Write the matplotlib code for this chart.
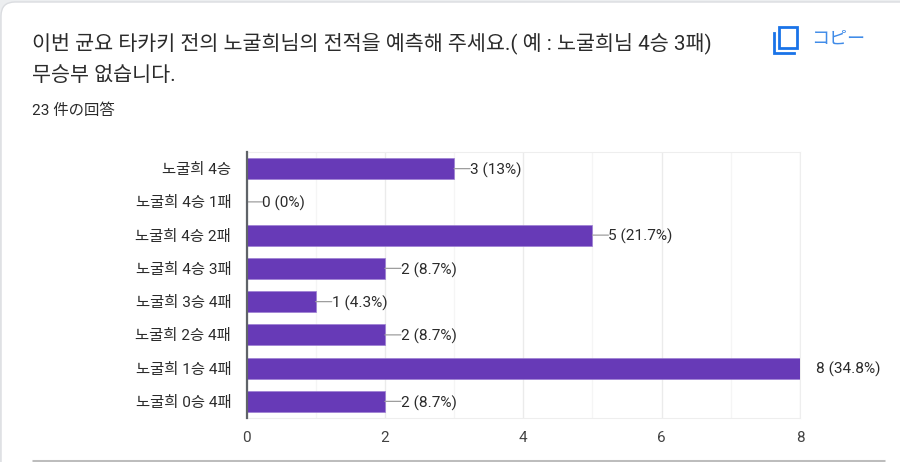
import matplotlib
matplotlib.use("Agg")
import matplotlib.pyplot as plt
from matplotlib.patches import FancyBboxPatch, Rectangle

plt.rcParams['font.family'] = ['Roboto', 'Noto Sans CJK KR', 'Noto Sans CJK JP', 'DejaVu Sans']

title_1 = "이번 균요 타카키 전의 노굴희님의 전적을 예측해 주세요.( 예 : 노굴희님 4승 3패)"
title_2 = "무승부 없습니다."
subtitle = "23 件の回答"
copy_label = "コピー"

categories = ["노굴희 4승", "노굴희 4승 1패", "노굴희 4승 2패", "노굴희 4승 3패",
              "노굴희 3승 4패", "노굴희 2승 4패", "노굴희 1승 4패", "노굴희 0승 4패"]
counts = [3, 0, 5, 2, 1, 2, 8, 2]
percents = ["13%", "0%", "21.7%", "8.7%", "4.3%", "8.7%", "34.8%", "8.7%"]
major_ticks = [0, 2, 4, 6, 8]
minor_ticks = [1, 3, 5, 7]

W, H = 900, 462
bar_color = "#673ab7"
text_color = "#2b2b2b"
blue = "#1a73e8"

fig = plt.figure(figsize=(W / 100, H / 100), dpi=100, facecolor="#eceef0")

# page furniture, in pixels
bg = fig.add_axes([0, 0, 1, 1])
bg.set_xlim(0, W)
bg.set_ylim(H, 0)
bg.axis("off")
bg.add_patch(FancyBboxPatch((1, 2), W + 30, H + 30, boxstyle="round,pad=0,rounding_size=14",
                            fc="white", ec="#dadce0", lw=1))
bg.plot([32, 885], [460.5, 460.5], color="#bdbdbd", lw=2.2, solid_capstyle="butt")

bg.text(32, 43, title_1, fontsize=14.9, color=text_color, va="center", ha="left")
bg.text(32, 75.5, title_2, fontsize=14.9, color=text_color, va="center", ha="left")
bg.text(32, 110.5, subtitle, fontsize=11.1, color=text_color, va="center", ha="left")
bg.text(811, 39, copy_label, fontsize=13, color="#3f8be8", va="center", ha="left",
        family=['Noto Sans CJK JP', 'DejaVu Sans'])

# copy icon
bg.add_patch(Rectangle((779, 27), 17.5, 21, fc="none", ec=blue, lw=2))
bg.plot([774, 774, 794], [33, 52.5, 52.5], color=blue, lw=2, solid_joinstyle="miter")

ax = fig.add_axes([246.5 / W, 1 - 418 / H, (800 - 246.5) / W, (418 - 152) / H])
ypos = list(range(len(categories)))
ax.barh(ypos, counts, height=0.63, color=bar_color, edgecolor="#9d7fd3", linewidth=0.5, zorder=3)
ax.set_xlim(0, 8)
ax.set_ylim(len(categories) - 0.5, -0.5)
ax.set_yticks(ypos, categories)
ax.set_xticks(major_ticks)
ax.set_xticks(minor_ticks, minor=True)
ax.grid(True, which="major", axis="x", color="#ebebeb", lw=1, zorder=0)
ax.grid(True, which="minor", axis="x", color="#f5f5f5", lw=1, zorder=0)
ax.tick_params(axis="y", length=0, pad=11, labelsize=11.1, labelcolor=text_color)
ax.tick_params(axis="x", which="both", length=0, pad=9, labelsize=11, labelcolor="#424242")
for lab in ax.get_yticklabels():
    lab.set_va("center_baseline")
for side in ["top", "right", "bottom"]:
    ax.spines[side].set_color("#eeeeee")
ax.spines["left"].set_color("#5f6368")
ax.spines["left"].set_linewidth(1.6)
ax.spines["left"].set_zorder(5)

for y, n, p in zip(ypos, counts, percents):
    # the longest bar has no leader line
    if n < max(counts):
        ax.annotate("", xy=(n, y), xytext=(16, 0), textcoords="offset pixels", annotation_clip=False,
                    arrowprops=dict(arrowstyle="-", color="#9e9e9e", lw=0.9, shrinkA=0, shrinkB=0))
    ax.annotate(f"{n} ({p})", xy=(n, y), xytext=(16, -1.5), textcoords="offset pixels",
                va="center", ha="left", fontsize=11.1, color=text_color, annotation_clip=False)

fig.savefig("out.png", dpi=100, facecolor=fig.get_facecolor())
